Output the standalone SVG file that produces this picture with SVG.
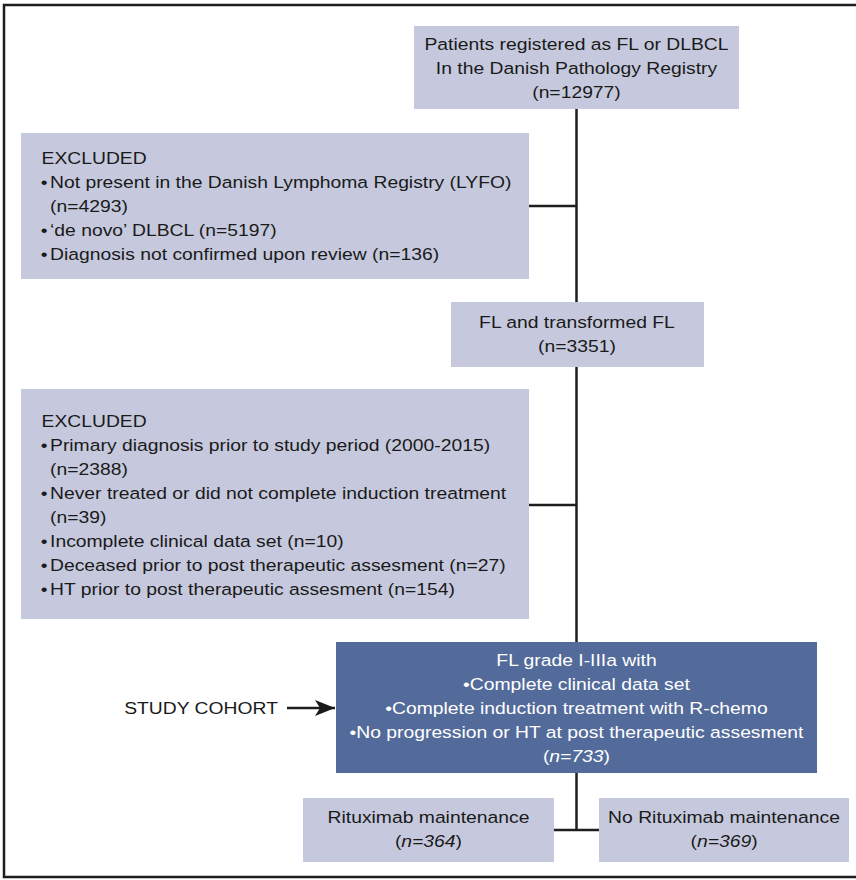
<svg xmlns="http://www.w3.org/2000/svg" width="856" height="880" viewBox="0 0 856 880">
<style>
.box{fill:#c6c9dd}
.dark{fill:#536b9b}
.t{font-family:"Liberation Sans",Arial,sans-serif;font-size:16.8px;fill:#1a1a1a}
.w{fill:#ffffff}
.c{text-anchor:middle}
.ln{stroke:#1e1e1e;stroke-width:2.5;fill:none}
</style>
<defs>
<marker id="ah" markerWidth="20" markerHeight="16" refX="20" refY="8" orient="auto" markerUnits="userSpaceOnUse">
<path d="M0,0 L20,8 L0,16 L5,8 Z" fill="#1a1a1a"/>
</marker>
</defs>
<rect x="4" y="5" width="860" height="872" fill="#fff" stroke="#1e1e1e" stroke-width="2.5"/>
<g id="connectors" class="ln">
<line x1="576.5" y1="109" x2="576.5" y2="302"/>
<line x1="529" y1="206" x2="576.5" y2="206"/>
<line x1="576.5" y1="367" x2="576.5" y2="642"/>
<line x1="529" y1="505" x2="576.5" y2="505"/>
<line x1="576.5" y1="773" x2="576.5" y2="830"/>
<line x1="554" y1="830" x2="599" y2="830"/>
<line x1="287" y1="708" x2="335" y2="708" marker-end="url(#ah)"/>
</g>
<g id="registered">
<rect class="box" x="414" y="26" width="325" height="83"/>
<g transform="scale(1.15 1)" class="t c">
<text x="501.3" y="50">Patients registered as FL or DLBCL</text>
<text x="501.3" y="74">In the Danish Pathology Registry</text>
<text x="501.3" y="98">(n=12977)</text>
</g>
</g>
<g id="excluded1">
<rect class="box" x="21" y="133" width="508" height="146"/>
<g transform="scale(1.15 1)" class="t">
<text x="36.1" y="164">EXCLUDED</text>
<text y="188"><tspan x="35.5">•</tspan><tspan x="43.5">Not present in the Danish Lymphoma Registry (LYFO)</tspan></text>
<text x="43.5" y="212">(n=4293)</text>
<text y="236"><tspan x="35.5">•</tspan><tspan x="43.5">‘de novo’ DLBCL (n=5197)</tspan></text>
<text y="260"><tspan x="35.5">•</tspan><tspan x="43.5">Diagnosis not confirmed upon review (n=136)</tspan></text>
</g>
</g>
<g id="fl">
<rect class="box" x="451" y="302" width="253" height="65"/>
<g transform="scale(1.15 1)" class="t c">
<text x="501.7" y="328">FL and transformed FL</text>
<text x="501.7" y="352">(n=3351)</text>
</g>
</g>
<g id="excluded2">
<rect class="box" x="21" y="389" width="508" height="230"/>
<g transform="scale(1.15 1)" class="t">
<text x="36.1" y="427">EXCLUDED</text>
<text y="451"><tspan x="35.5">•</tspan><tspan x="43.5">Primary diagnosis prior to study period (2000-2015)</tspan></text>
<text x="43.5" y="475">(n=2388)</text>
<text y="499"><tspan x="35.5">•</tspan><tspan x="43.5">Never treated or did not complete induction treatment</tspan></text>
<text x="43.5" y="523">(n=39)</text>
<text y="547"><tspan x="35.5">•</tspan><tspan x="43.5">Incomplete clinical data set (n=10)</tspan></text>
<text y="571"><tspan x="35.5">•</tspan><tspan x="43.5">Deceased prior to post therapeutic assesment (n=27)</tspan></text>
<text y="595"><tspan x="35.5">•</tspan><tspan x="43.5">HT prior to post therapeutic assesment (n=154)</tspan></text>
</g>
</g>
<g id="label">
<g transform="scale(1.15 1)" class="t">
<text x="241.7" y="714" text-anchor="end">STUDY COHORT</text>
</g>
</g>
<g id="cohort">
<rect class="dark" x="336" y="642" width="481" height="131"/>
<g transform="scale(1.15 1)" class="t c w">
<text x="501.3" y="666">FL grade I-IIIa with</text>
<text x="501.3" y="690">•Complete clinical data set</text>
<text x="501.3" y="714">•Complete induction treatment with R-chemo</text>
<text x="501.3" y="738">•No progression or HT at post therapeutic assesment</text>
<text x="501.3" y="762">(<tspan font-style="italic">n=733</tspan>)</text>
</g>
</g>
<g id="rm">
<rect class="box" x="303" y="798" width="251" height="64"/>
<g transform="scale(1.15 1)" class="t c">
<text x="372.6" y="823">Rituximab maintenance</text>
<text x="372.6" y="847">(<tspan font-style="italic">n=364</tspan>)</text>
</g>
</g>
<g id="norm">
<rect class="box" x="599" y="798" width="250" height="64"/>
<g transform="scale(1.15 1)" class="t c">
<text x="629.6" y="823">No Rituximab maintenance</text>
<text x="629.6" y="847">(<tspan font-style="italic">n=369</tspan>)</text>
</g>
</g>
</svg>
